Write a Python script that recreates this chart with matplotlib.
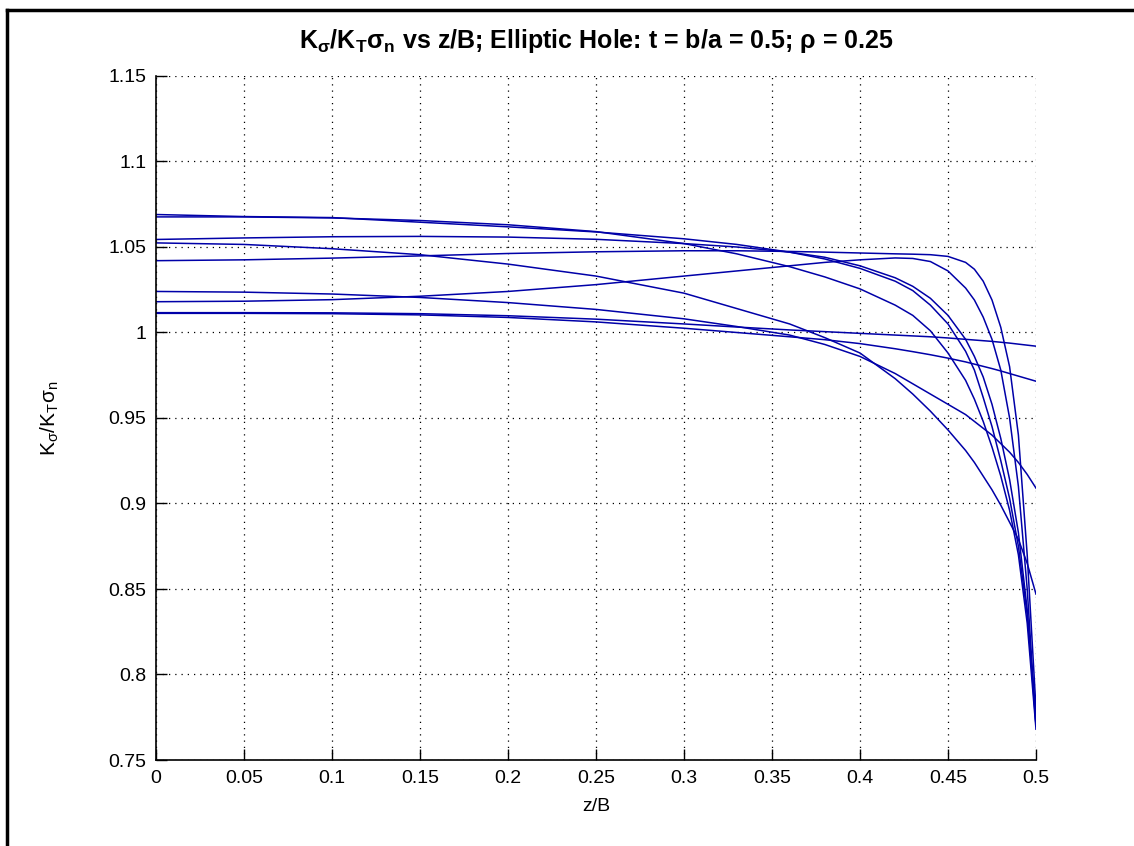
import matplotlib
matplotlib.use('Agg')
import matplotlib.pyplot as plt
from matplotlib.lines import Line2D

# z/B stations shared by all curves
z = [0, 0.05, 0.1, 0.15, 0.2, 0.25, 0.3, 0.33, 0.36, 0.38, 0.4, 0.42,
     0.43, 0.44, 0.45, 0.46, 0.465, 0.47, 0.475, 0.48, 0.485, 0.49, 0.495, 0.5]

# curves (Ksigma/KT sigma_n)
c1 = [1.069, 1.0678, 1.0672, 1.0645, 1.0618, 1.0588, 1.0548, 1.0515, 1.0470, 1.0430, 1.0375, 1.0300,
      1.0245, 1.0160, 1.0050, 0.9890, 0.9780, 0.9620, 0.9450, 0.9250, 0.9030, 0.8750, 0.8350, 0.7750]
c2 = [1.0676, 1.0676, 1.0670, 1.0655, 1.0630, 1.0590, 1.0520, 1.0460, 1.0385, 1.0325, 1.0255, 1.0160,
      1.0100, 1.0010, 0.9880, 0.9720, 0.9610, 0.9480, 0.9330, 0.9160, 0.8960, 0.8700, 0.8300, 0.7680]
c3 = [1.0544, 1.0553, 1.0560, 1.0562, 1.0558, 1.0545, 1.0520, 1.0500, 1.0470, 1.0440, 1.0390, 1.0320,
      1.0270, 1.0200, 1.0100, 0.9960, 0.9860, 0.9740, 0.9580, 0.9380, 0.9140, 0.8830, 0.8380, 0.7700]
c4 = [1.042, 1.0425, 1.0435, 1.0448, 1.0462, 1.0472, 1.0478, 1.0478, 1.0474, 1.0470, 1.0465, 1.0460,
      1.0458, 1.0455, 1.0445, 1.0410, 1.0370, 1.0300, 1.0190, 1.0030, 0.9800, 0.9400, 0.8700, 0.7800]
c5 = [1.018, 1.0183, 1.0192, 1.0212, 1.0240, 1.0280, 1.0330, 1.0360, 1.0390, 1.0410, 1.0425, 1.0436,
      1.0433, 1.0415, 1.0360, 1.0260, 1.0190, 1.0090, 0.9960, 0.9780, 0.9500, 0.9100, 0.8500, 0.7700]
c6 = [1.0116, 1.0116, 1.0115, 1.0110, 1.0098, 1.0078, 1.0050, 1.0032, 1.0015, 1.0005, 0.9995, 0.9985,
      0.9980, 0.9975, 0.9968, 0.9960, 0.9956, 0.9952, 0.9948, 0.9943, 0.9938, 0.9932, 0.9926, 0.9920]
c7 = [1.0112, 1.0112, 1.0110, 1.0103, 1.0088, 1.0062, 1.0025, 1.0000, 0.9975, 0.9958, 0.9935, 0.9905,
      0.9888, 0.9870, 0.9850, 0.9828, 0.9815, 0.9802, 0.9789, 0.9775, 0.9760, 0.9745, 0.9730, 0.9715]
c8 = [1.024, 1.0236, 1.0225, 1.0205, 1.0175, 1.0135, 1.0080, 1.0035, 0.9985, 0.9930, 0.9860, 0.9760,
      0.9700, 0.9640, 0.9580, 0.9520, 0.9480, 0.9440, 0.9400, 0.9350, 0.9300, 0.9240, 0.9170, 0.9090]
c9 = [1.0524, 1.0515, 1.0490, 1.0455, 1.0400, 1.0330, 1.0230, 1.0140, 1.0050, 0.9970, 0.9880, 0.9730,
      0.9640, 0.9540, 0.9430, 0.9310, 0.9240, 0.9160, 0.9080, 0.8990, 0.8890, 0.8790, 0.8650, 0.8470]
curves = [c1, c2, c3, c4, c5, c6, c7, c8, c9]

xticks = [0, 0.05, 0.1, 0.15, 0.2, 0.25, 0.3, 0.35, 0.4, 0.45, 0.5]
xlabels = ['0', '0.05', '0.1', '0.15', '0.2', '0.25', '0.3', '0.35', '0.4', '0.45', '0.5']
yticks = [0.75, 0.8, 0.85, 0.9, 0.95, 1.0, 1.05, 1.1, 1.15]
ylabels = ['0.75', '0.8', '0.85', '0.9', '0.95', '1', '1.05', '1.1', '1.15']

plt.rcParams['font.family'] = ['Liberation Sans', 'DejaVu Sans']
plt.rcParams['mathtext.default'] = 'regular'

fig = plt.figure(figsize=(11.34, 8.46), dpi=100)
ax = fig.add_axes([156/1134, 1-760/846, 880/1134, 684/846])

for c in curves:
    ax.plot(z, c, color='#0000a8', lw=1.1)

ax.set_xlim(0, 0.5)
ax.set_ylim(0.75, 1.15)
ax.set_xticks(xticks)
ax.set_xticklabels(xlabels)
ax.set_yticks(yticks)
ax.set_yticklabels(ylabels)
ax.tick_params(direction='in', length=8, width=1, labelsize=14, pad=7)
ax.grid(True, linestyle=(0, (1, 4)), color='k', lw=0.9)
ax.spines['top'].set_visible(False)
ax.spines['right'].set_visible(False)
for s in ['left', 'bottom']:
    ax.spines[s].set_linewidth(1.2)

ax.set_title(r'K$_\sigma$/K$_T\sigma_n$ vs z/B; Elliptic Hole: t = b/a = 0.5; ρ = 0.25',
             fontsize=18, fontweight='bold', pad=20)
ax.set_xlabel('z/B', fontsize=14, labelpad=8)
ax.set_ylabel(r'K$_\sigma$/K$_T\sigma_n$', fontsize=15, labelpad=34)

# figure frame (left and top edges visible in the screenshot)
fig.add_artist(Line2D([7/1134, 7/1134], [0, 1-10/846], color='k', lw=2.5, transform=fig.transFigure))
fig.add_artist(Line2D([7/1134, 1], [1-10/846, 1-10/846], color='k', lw=2.5, transform=fig.transFigure))

fig.savefig('out.png', dpi=100)
